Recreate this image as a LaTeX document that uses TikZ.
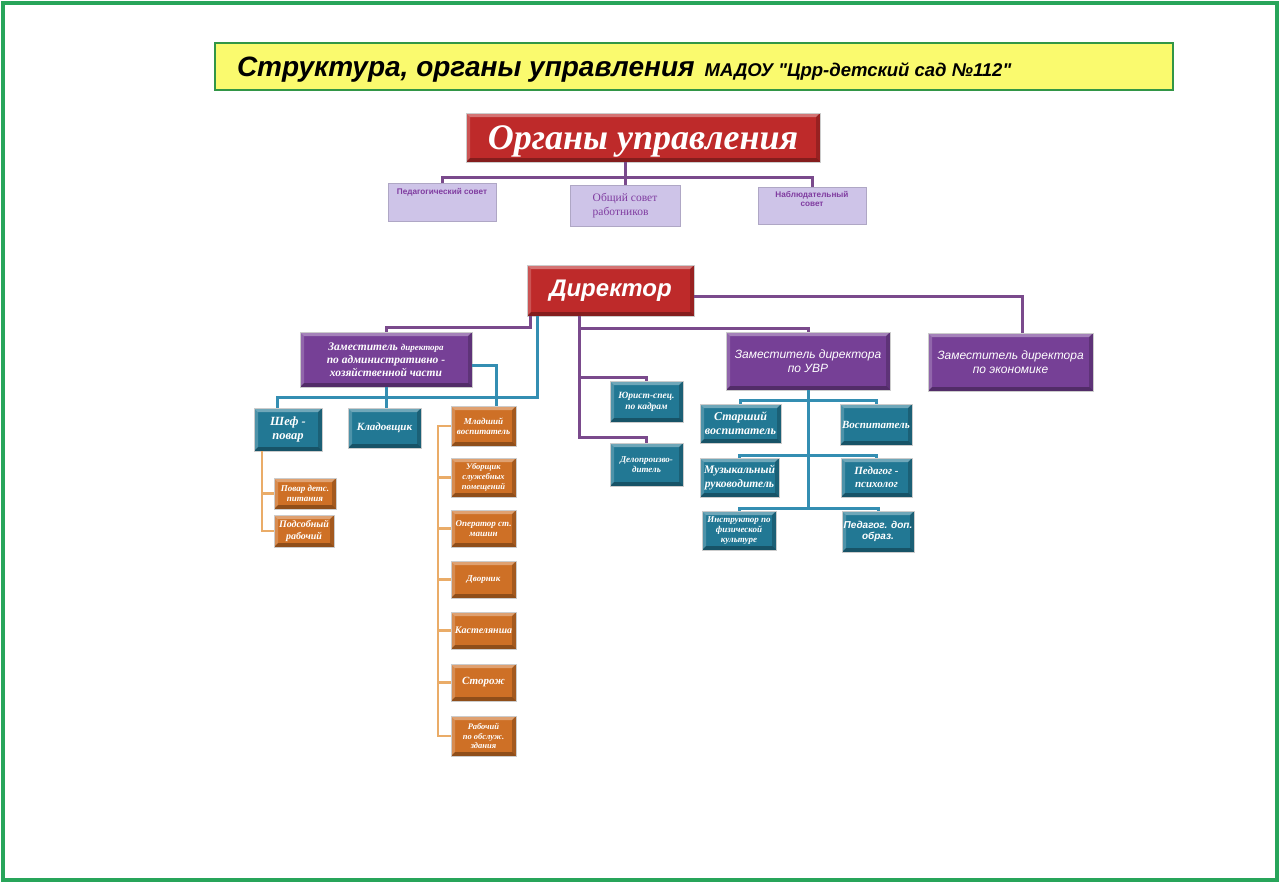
\documentclass[tikz,border=0pt]{standalone}
\usepackage{fontspec}
\setmainfont{Liberation Serif}
\newfontfamily\sansf{Liberation Sans}
\definecolor{framec}{RGB}{40,165,90}
\definecolor{titleyel}{RGB}{250,250,110}
\definecolor{titlebd}{RGB}{50,150,70}
\definecolor{redc}{RGB}{190,42,42}
\definecolor{purc}{RGB}{118,64,150}
\definecolor{tealc}{RGB}{34,120,148}
\definecolor{orc}{RGB}{206,112,38}
\definecolor{lavc}{RGB}{206,196,232}
\definecolor{lavt}{RGB}{128,60,160}
\definecolor{plc}{RGB}{122,74,140}
\definecolor{blc}{RGB}{52,142,178}
\definecolor{olc}{RGB}{234,172,104}
\newcommand{\fs}[1]{\fontsize{#1}{1.15\dimexpr #1pt\relax}\selectfont}
\tikzset{
  every node/.style={inner sep=0pt, outer sep=0pt},
  sz/.style 2 args={minimum width=#1pt, minimum height=#2pt},
  bevel/.style={path picture={
    \fill[white,opacity=0.35] (path picture bounding box.north west) -- (path picture bounding box.north east)
      -- ([shift={(-4pt,-4pt)}]path picture bounding box.north east) -- ([shift={(4pt,-4pt)}]path picture bounding box.north west) -- cycle;
    \fill[white,opacity=0.2] (path picture bounding box.north west) -- ([shift={(4pt,-4pt)}]path picture bounding box.north west)
      -- ([shift={(4pt,4pt)}]path picture bounding box.south west) -- (path picture bounding box.south west) -- cycle;
    \fill[black,opacity=0.3] (path picture bounding box.south west) -- (path picture bounding box.south east)
      -- ([shift={(-4pt,4pt)}]path picture bounding box.south east) -- ([shift={(4pt,4pt)}]path picture bounding box.south west) -- cycle;
    \fill[black,opacity=0.2] (path picture bounding box.north east) -- ([shift={(-4pt,-4pt)}]path picture bounding box.north east)
      -- ([shift={(-4pt,4pt)}]path picture bounding box.south east) -- (path picture bounding box.south east) -- cycle;
  }},
  boxbase/.style={rectangle, draw=black!20, line width=0.6pt, bevel, text=white, align=center},
  redbox/.style={boxbase, fill=redc},
  purbox/.style={boxbase, fill=purc, font=\sansf\itshape\fs{12}},
  tealbox/.style={boxbase, fill=tealc, font=\bfseries\itshape\fs{11}},
  orbox/.style={boxbase, fill=orc, font=\bfseries\itshape\fs{9}},
  lav/.style={rectangle, fill=lavc, draw=lavc!85!black, line width=0.4pt},
  lavtxt/.style={text=lavt, align=center, font=\sansf\bfseries\fs{8.2}},
  pline/.style={draw=plc, line width=3pt},
  bline/.style={draw=blc, line width=3pt},
  oline/.style={draw=olc, line width=2.5pt},
}
\begin{document}
\begin{tikzpicture}[x=1pt,y=-1pt]
\useasboundingbox (0,0) rectangle (1280,883);
\fill[white] (0,0) rectangle (1280,883);
\draw[framec, line width=4pt] (3,3) rectangle (1277,880);

% title
\node[rectangle, fill=titleyel, draw=titlebd, line width=2pt, sz={958}{47}] (title) at (694,66.5) {};
\node[anchor=base west] (titletext) at (237,77) {{\sansf\bfseries\itshape\fs{28}Структура, органы управления}\hspace{10pt}{\sansf\bfseries\itshape\fs{18.5}МАДОУ "Црр-детский сад №112"}};

% governing bodies
\node[redbox, sz={354}{49}, font=\bfseries\itshape\fs{36}, text height=24pt, text depth=0pt] (org) at (643,137.5) {Органы управления};
\node[lav, sz={108}{38}] (ped) at (442,202) {};
\node[lavtxt, anchor=north] (pedT) at ([yshift=-5pt]ped.north) {Педагогический совет};
\node[lav, sz={110}{41}, text=lavt, font=\fs{11.5}, align=left] (obsh) at (625,205.5) {Общий совет\\работников};
\node[lav, sz={108}{37}] (nabl) at (812,205.5) {};
\node[lavtxt, anchor=north] (nablT) at ([yshift=-4pt]nabl.north) {Наблюдательный\\совет};

\coordinate (bus) at (0,177);
\draw[pline] (org.south -| obsh.north) -- (obsh.north);
\draw[pline] (ped.north) -- (ped.north |- bus) -- (nabl.north |- bus) -- (nabl.north);

% director and deputies
\node[redbox, sz={167}{51}, font=\sansf\bfseries\itshape\fs{24}] (dir) at (610.5,290.5) {Директор};
\node[purbox, sz={172}{55}, font=\bfseries\itshape\fs{11.5}] (dep) at (386,359.5) {Заместитель {\fs{9}директора}\\по административно -\\хозяйственной части};
\node[purbox, sz={164}{58}] (uvr) at (808,361) {Заместитель директора\\по УВР};
\node[purbox, sz={165}{58}] (econ) at (1010.5,362) {Заместитель директора\\по экономике};

% АХЧ subordinates
\node[tealbox, sz={68}{43}, font=\bfseries\itshape\fs{12.5}] (chef) at (288,429.5) {Шеф -\\повар};
\node[tealbox, sz={73}{40}] (klad) at (384.5,428) {Кладовщик};
\node[orbox, sz={62}{31}] (povar) at (305,493.5) {Повар детс.\\питания};
\node[orbox, sz={60}{32}, font=\bfseries\itshape\fs{10}] (podsob) at (304,531) {Подсобный\\рабочий};
\node[orbox, sz={65}{40}] (c1) at (483.5,426) {Младший\\воспитатель};
\node[orbox, sz={65}{39}, font=\bfseries\itshape\fs{8.5}] (c2) at (483.5,477.5) {Уборщик\\служебных\\помещений};
\node[orbox, sz={65}{37}] (c3) at (483.5,528.5) {Оператор ст.\\машин};
\node[orbox, sz={65}{37}] (c4) at (483.5,579.5) {Дворник};
\node[orbox, sz={65}{37}, font=\bfseries\itshape\fs{10}] (c5) at (483.5,630.5) {Кастелянша};
\node[orbox, sz={65}{37}, font=\bfseries\itshape\fs{11}] (c6) at (483.5,682.5) {Сторож};
\node[orbox, sz={65}{40}, font=\bfseries\itshape\fs{8.5}] (c7) at (483.5,736) {Рабочий\\по обслуж.\\здания};

% right branch
\node[tealbox, sz={73}{41}, font=\bfseries\itshape\fs{9.5}] (jur) at (646.5,401.5) {Юрист-спец.\\по кадрам};
\node[tealbox, sz={73}{43}, font=\bfseries\itshape\fs{9}] (delo) at (646.5,464.5) {Делопроизво-\\дитель};
\node[tealbox, sz={81}{39}, font=\bfseries\itshape\fs{12}] (star) at (740.5,423.5) {Старший\\воспитатель};
\node[tealbox, sz={72}{41}] (vosp) at (876,424.5) {Воспитатель};
\node[tealbox, sz={79}{39}, font=\bfseries\itshape\fs{11.5}] (muz) at (739.5,477.5) {Музыкальный\\руководитель};
\node[tealbox, sz={71}{39}] (psych) at (876.5,477.5) {Педагог -\\психолог};
\node[tealbox, sz={74}{39}, font=\bfseries\itshape\fs{9}] (instr) at (739,530.5) {Инструктор по\\физической\\культуре};
\node[tealbox, sz={72}{41}, font=\sansf\bfseries\itshape\fs{10}] (dop) at (878,531.5) {Педагог. доп.\\образ.};

% connectors from director
\coordinate (e1) at (1022,296);
\draw[pline] (dir.east |- e1) -- (e1) -- (e1 |- econ.north);
\coordinate (b1) at (530,327);
\draw[pline] (dir.south -| b1) -- (b1) -- (b1 -| dep.north) -- (dep.north);
\coordinate (b2) at (537,397);
\coordinate (cx) at (277,0);
\draw[bline] (dir.south -| b2) -- (b2) -- (b2 -| cx) -- (chef.north -| cx);
\draw[bline] (dep.south) -- (dep.south |- klad.north);
\coordinate (b3) at (496,365);
\draw[bline] (dep.east |- b3) -- (b3) -- (b3 |- c1.north);

% orange spines
\coordinate (osp) at (438,0);
\draw[oline] (c1.west) -- (c1.west -| osp) -- (c7.west -| osp) -- (c7.west);
\foreach \n in {c2,c3,c4,c5,c6} \draw[oline] (\n.west) -- (\n.west -| osp);
\coordinate (csp) at (262,0);
\draw[oline] (chef.south -| csp) -- (podsob.west -| csp) -- (podsob.west);
\draw[oline] (povar.west) -- (povar.west -| csp);

% purple right spine
\coordinate (rsp) at (579,0);
\coordinate (r1) at (0,328);
\coordinate (r2) at (0,377);
\coordinate (r3) at (0,437);
\draw[pline] (dir.south -| rsp) -- (r3 -| rsp) -- (r3 -| delo.north) -- (delo.north);
\draw[pline] (r1 -| rsp) -- (r1 -| uvr.north) -- (uvr.north);
\draw[pline] (r2 -| rsp) -- (r2 -| jur.north) -- (jur.north);

% УВР tree
\coordinate (u1) at (0,400);
\coordinate (u2) at (0,455);
\coordinate (u3) at (0,508);
\draw[bline] (uvr.south) -- (uvr.south |- u3);
\draw[bline] (star.north) -- (star.north |- u1) -- (vosp.north |- u1) -- (vosp.north);
\draw[bline] (muz.north) -- (muz.north |- u2) -- (psych.north |- u2) -- (psych.north);
\draw[bline] (instr.north) -- (instr.north |- u3) -- (dop.north |- u3) -- (dop.north);
\end{tikzpicture}
\end{document}
